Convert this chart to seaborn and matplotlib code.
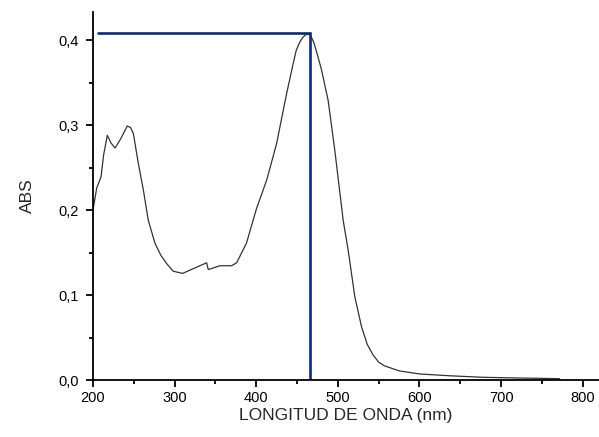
import matplotlib
matplotlib.use("Agg")
import matplotlib.pyplot as plt
from matplotlib.ticker import MultipleLocator, FuncFormatter
import numpy as np
import pandas as pd
import seaborn as sns

# spectrum
wavelength = [200, 204.5, 209.8, 213, 217.5, 222, 227, 234, 242, 246, 249.4,
              255.5, 261.6, 267.7, 275.9, 283, 290.2, 298.3, 309.8, 322.8,
              339.2, 341.2, 355.5, 369.8, 376, 388, 400.4, 412.7, 424.9, 437.2,
              445.3, 449, 453.5, 457, 460, 463.6, 466, 467.8, 471, 474, 480,
              488.1, 496.3, 506.5, 512.6, 520.8, 529, 536, 543.2, 550, 557.5,
              575.9, 600.4, 637, 677.9, 718.8, 771.8]
absorb = [0.200, 0.226, 0.239, 0.265, 0.288, 0.279, 0.273, 0.284, 0.299, 0.297,
          0.290, 0.255, 0.224, 0.188, 0.161, 0.147, 0.137, 0.128, 0.1255,
          0.131, 0.138, 0.130, 0.1345, 0.1345, 0.138, 0.161, 0.202, 0.235,
          0.278, 0.337, 0.3725, 0.388, 0.398, 0.403, 0.406, 0.407, 0.406,
          0.403, 0.396, 0.386, 0.365, 0.329, 0.270, 0.188, 0.153, 0.098,
          0.0627, 0.042, 0.0294, 0.021, 0.0165, 0.0106, 0.0071, 0.0050,
          0.0032, 0.0024, 0.0016]
peak_x = 466
peak_y = 0.408
guide_start = 205.7

df = pd.DataFrame({"nm": wavelength, "abs": absorb})

sns.set_style("ticks")
plt.rcParams['font.family'] = ['Liberation Sans', 'DejaVu Sans']

fig = plt.figure(figsize=(5.99, 4.37), dpi=100)
ax = fig.add_axes([0.1553, 0.1304, 0.8447, 0.842])

sns.lineplot(data=df, x="nm", y="abs", ax=ax, color="#333333", linewidth=0.9)
ax.plot([guide_start, peak_x, peak_x], [peak_y, peak_y, 0],
        color="#0d2c6e", linewidth=1.9, solid_joinstyle="miter")

ax.set_xlim(200, 820)
ax.set_ylim(0, 0.433)
ax.xaxis.set_major_locator(MultipleLocator(100))
ax.xaxis.set_minor_locator(MultipleLocator(50))
ax.yaxis.set_major_locator(MultipleLocator(0.1))
ax.yaxis.set_minor_locator(MultipleLocator(0.05))
ax.yaxis.set_major_formatter(FuncFormatter(lambda v, p: f"{v:.1f}".replace(".", ",")))

for s in ["top", "right"]:
    ax.spines[s].set_visible(False)
for s in ["left", "bottom"]:
    ax.spines[s].set_linewidth(1.3)
    ax.spines[s].set_color("black")

ax.tick_params(which="major", length=5, width=1.3, labelsize=10.5, colors="black")
ax.tick_params(axis="y", which="major", pad=5)
ax.tick_params(axis="x", which="major", pad=3)
ax.tick_params(which="minor", length=3, width=1.3, colors="black")

ax.set_xlabel("LONGITUD DE ONDA (nm)", fontsize=12.5, labelpad=2)
ax.set_ylabel("ABS", fontsize=12.5, labelpad=17)

fig.savefig("out.png", dpi=100)
